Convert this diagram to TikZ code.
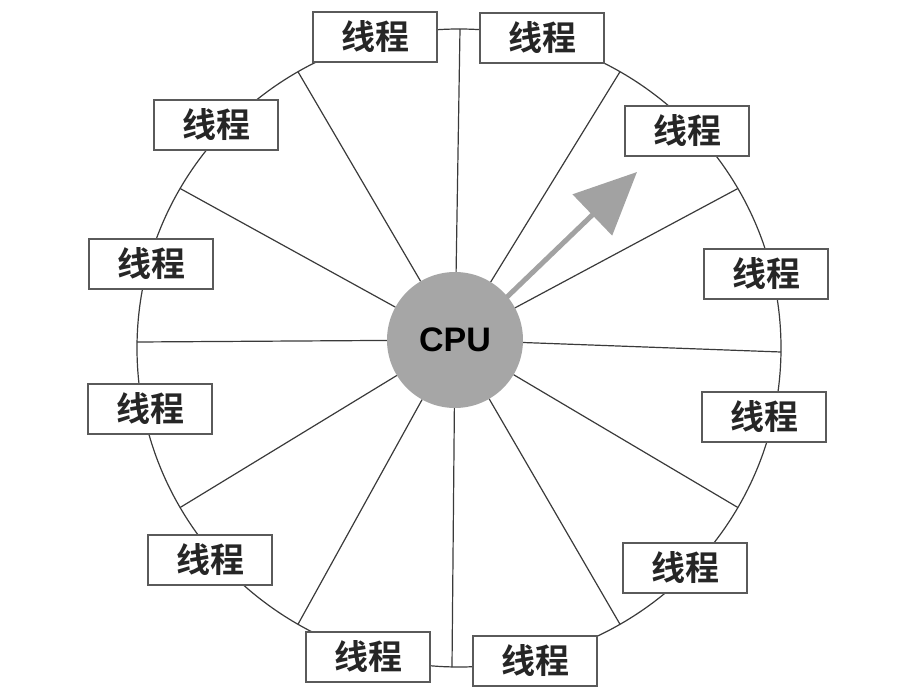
\documentclass[tikz,border=0pt]{standalone}
\usepackage{fontspec}
\setmainfont{Liberation Sans}
\newfontfamily\cjk{Noto Sans CJK SC Bold}
\usetikzlibrary{arrows.meta}
\definecolor{boxgray}{HTML}{5A5A5A}
\definecolor{linegray}{HTML}{3A3A3A}
\definecolor{cpugray}{HTML}{A6A6A6}
\definecolor{arrowgray}{HTML}{A2A2A2}
\begin{document}
\begin{tikzpicture}[x=1pt,y=-1pt,
  thread/.style={draw=boxgray, line width=1.4pt, fill=white,
    minimum width=124pt, minimum height=50pt, inner sep=0pt,
    font=\cjk\fontsize{34}{36}\selectfont, text=black!85},
  spoke/.style={draw=linegray, line width=1.2pt},
  rim/.style={draw=linegray, line width=1.2pt},
  cpustyle/.style={circle, fill=cpugray, draw=none, minimum size=136pt,
    inner sep=0pt, font=\bfseries\fontsize{34}{36}\selectfont, text=black},
  bigarrow/.style={draw=arrowgray, line width=5pt,
    -{Triangle[length=62pt,width=56pt,fill=arrowgray]}}]
\useasboundingbox (0,0) rectangle (924,696);
% rim
\coordinate (O) at (459,348);
\draw[rim] (O) ellipse [x radius=322pt, y radius=319pt];
% cpu
\node[cpustyle] (cpu) at (455,340) {CPU};
% spoke end points on the rim
\foreach \a in {30,60,120,150,210,240,300,330}{
  \coordinate (s\a) at ({459+322*cos(\a)},{348-319*sin(\a)});
}
\coordinate (s0)   at (781,352);
\coordinate (s90)  at (460,29);
\coordinate (s180) at (137,342);
\coordinate (s270) at (452,667);
% spokes
\foreach \a in {0,30,...,330}{
  \draw[spoke] (cpu) -- (s\a);
}
% threads
\node[thread] (t1)  at (375,37)  {线程};
\node[thread] (t2)  at (542,38)  {线程};
\node[thread] (t3)  at (687,131) {线程};
\node[thread] (t4)  at (766,274) {线程};
\node[thread] (t5)  at (764,417) {线程};
\node[thread] (t6)  at (685,568) {线程};
\node[thread] (t7)  at (535,661) {线程};
\node[thread] (t8)  at (368,657) {线程};
\node[thread] (t9)  at (210,560) {线程};
\node[thread] (t10) at (150,409) {线程};
\node[thread] (t11) at (151,264) {线程};
\node[thread] (t12) at (216,125) {线程};
% arrow
\coordinate (arrS) at (507,297);
\coordinate (arrT) at (637,172);
\draw[bigarrow] (arrS) -- (arrT);
\end{tikzpicture}
\end{document}
